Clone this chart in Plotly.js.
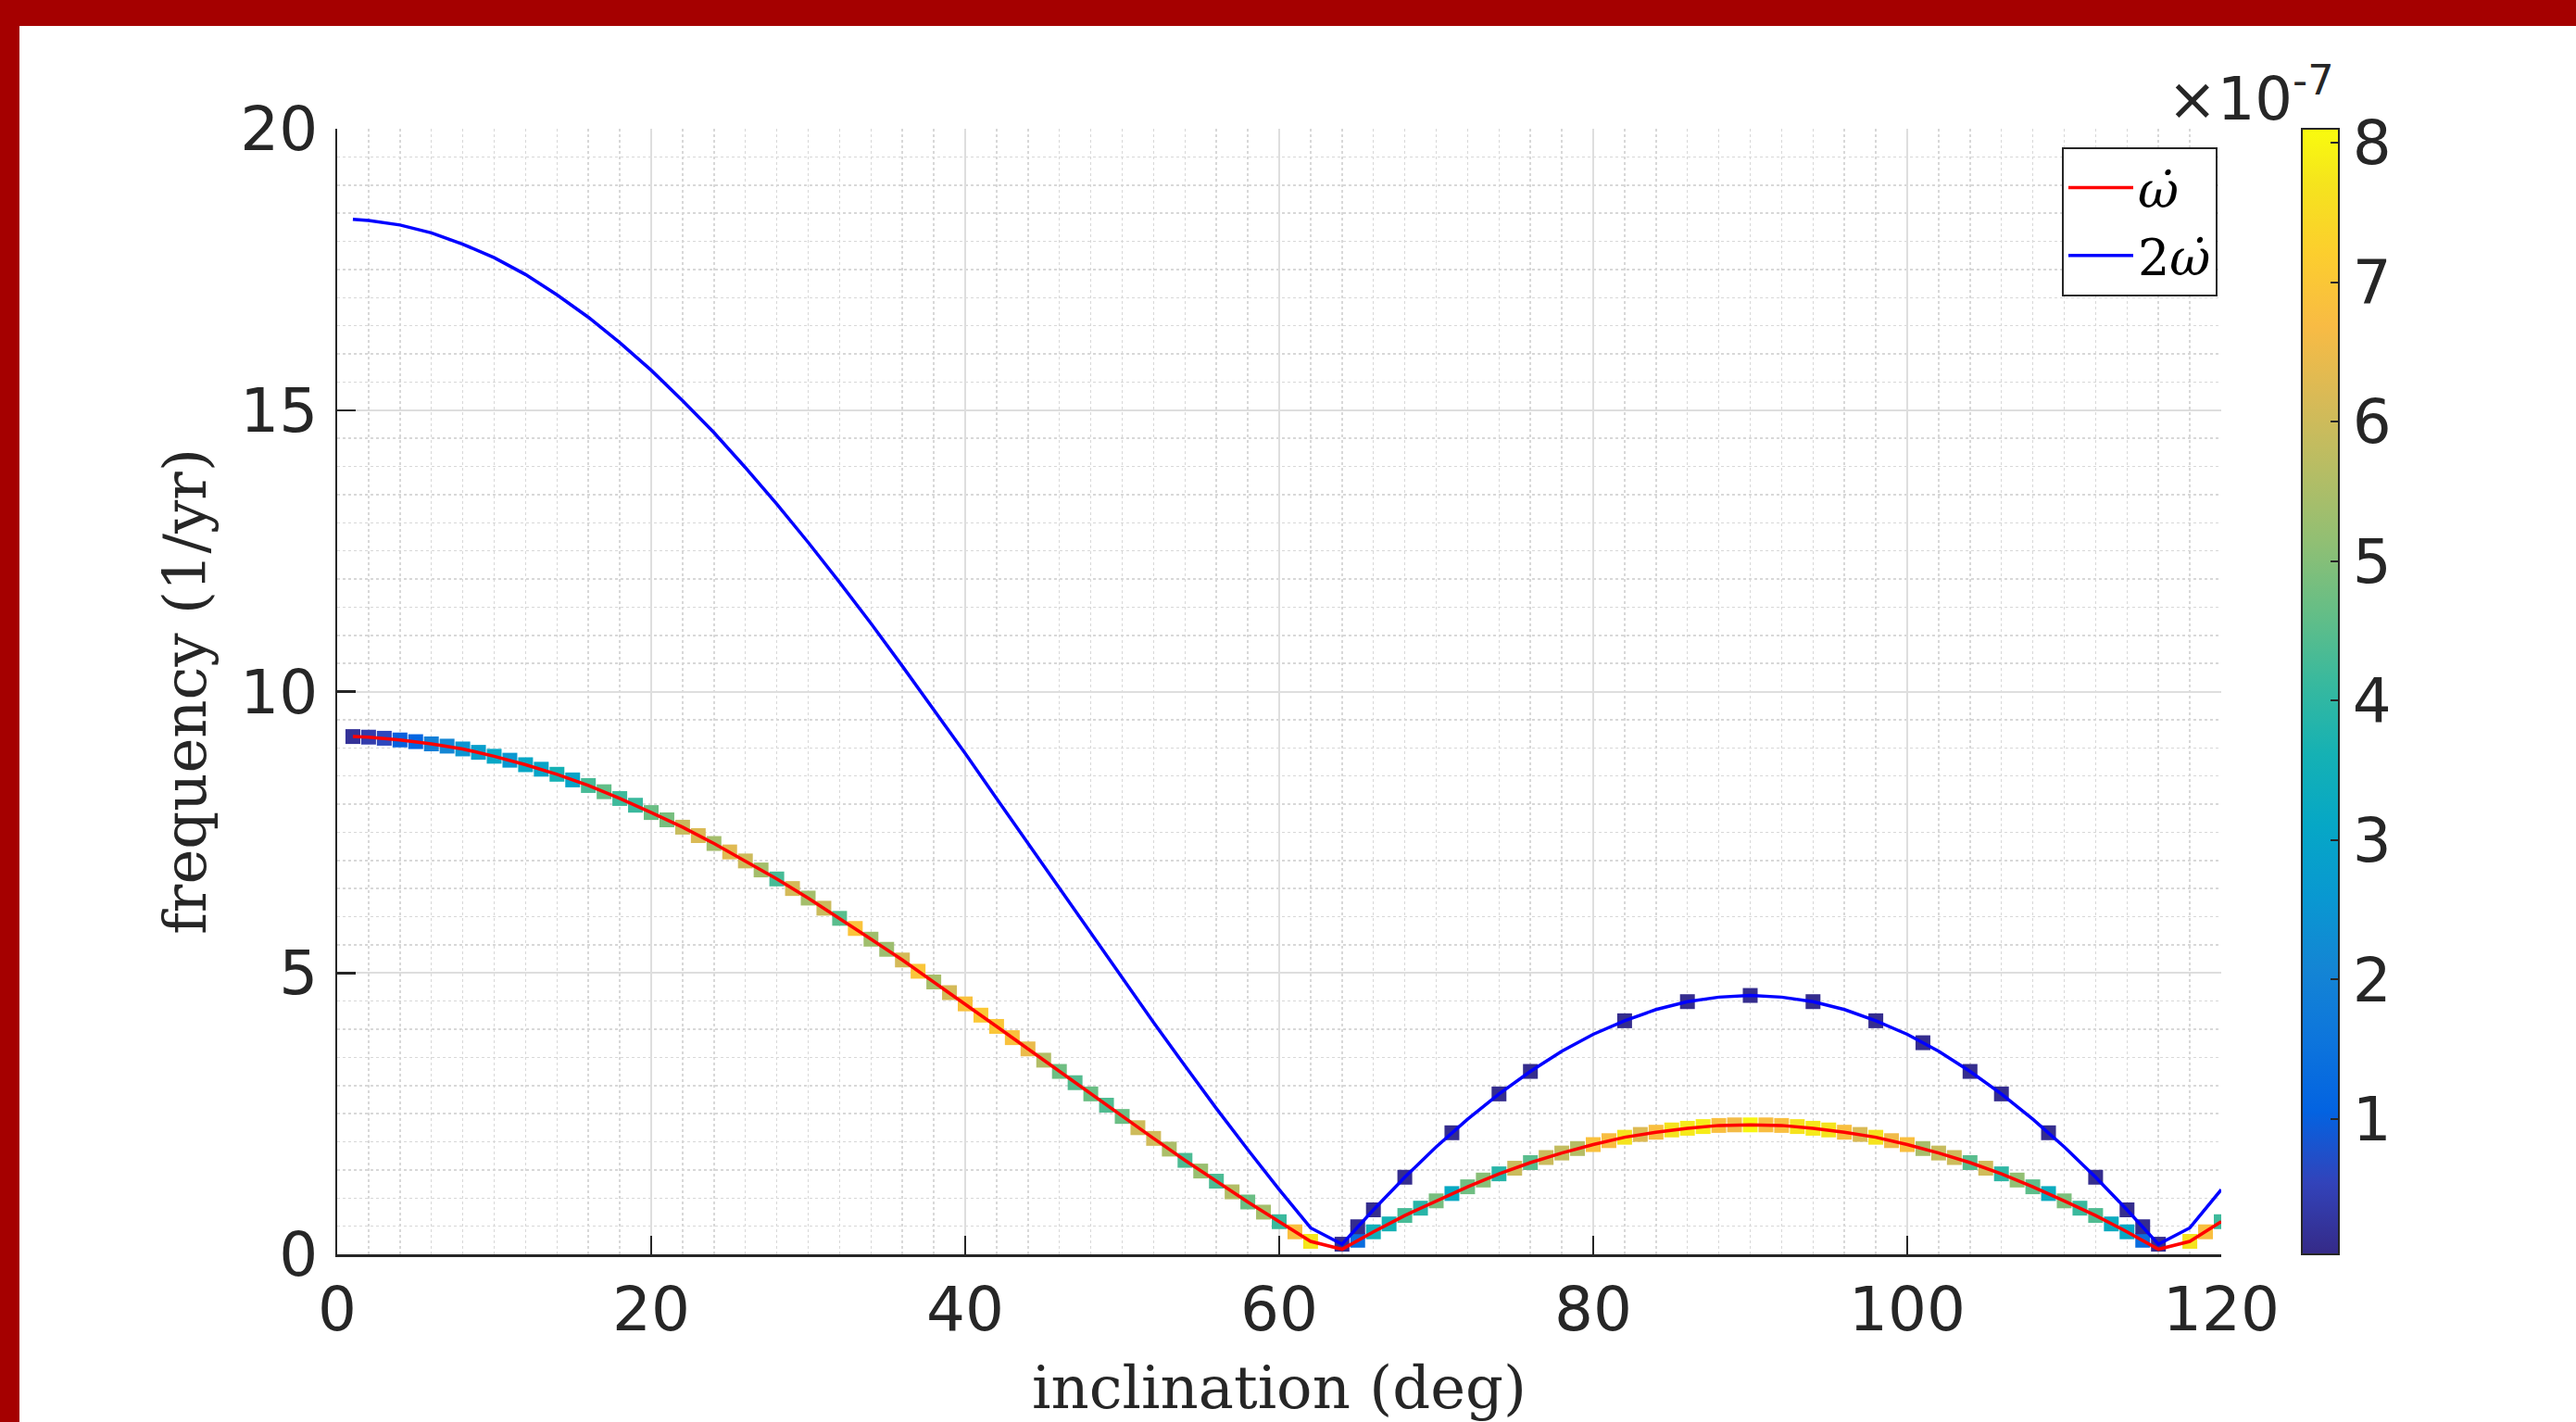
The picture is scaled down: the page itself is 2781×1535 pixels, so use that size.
<!DOCTYPE html>
<html><head><meta charset="utf-8">
<script src="https://cdn.plot.ly/plotly-3.0.1.min.js"></script>
<style>html,body{margin:0;padding:0;background:#fff;overflow:hidden}#chart{width:2781px;height:1535px}</style>
</head><body><div id="chart"></div>
<script>
// ---- data ----
const lineInclination = [1,2,4,6,8,10,12,14,16,18,20,22,24,26,28,30,32,34,36,38,40,42,44,46,48,50,52,54,56,58,60,62,64,66,68,70,72,74,76,78,80,82,84,86,88,90,92,94,96,98,100,102,104,106,108,110,112,114,116,118,120];
const omegaDotFreq = [9.20,9.19,9.14,9.07,8.98,8.85,8.70,8.53,8.33,8.10,7.85,7.59,7.30,6.99,6.67,6.33,5.97,5.60,5.23,4.84,4.45,4.05,3.65,3.25,2.85,2.45,2.06,1.67,1.30,0.93,0.58,0.23,0.09,0.40,0.69,0.95,1.20,1.43,1.63,1.80,1.95,2.08,2.17,2.24,2.29,2.30,2.29,2.24,2.17,2.08,1.95,1.80,1.63,1.43,1.20,0.95,0.69,0.40,0.09,0.23,0.58];
const twoOmegaDotFreq = [18.39,18.37,18.29,18.15,17.95,17.71,17.41,17.05,16.65,16.20,15.71,15.17,14.60,13.98,13.33,12.65,11.94,11.21,10.45,9.68,8.90,8.10,7.30,6.50,5.70,4.90,4.12,3.35,2.59,1.86,1.15,0.47,0.18,0.79,1.37,1.91,2.40,2.85,3.25,3.61,3.91,4.15,4.35,4.49,4.57,4.60,4.57,4.49,4.35,4.15,3.91,3.61,3.25,2.85,2.40,1.91,1.37,0.79,0.18,0.47,1.15];

const omegaMarkInclination = [1,2,3,4,5,6,7,8,9,10,11,12,13,14,15,16,17,18,19,20,21,22,23,24,25,26,27,28,29,30,31,32,33,34,35,36,37,38,39,40,41,42,43,44,45,46,47,48,49,50,51,52,53,54,55,56,57,58,59,60,61,62,65,66,67,68,69,70,71,72,73,74,75,76,77,78,79,80,81,82,83,84,85,86,87,88,89,90,91,92,93,94,95,96,97,98,99,100,101,102,103,104,105,106,107,108,109,110,111,112,113,114,115,118,119,120];
const omegaMarkFreq = [9.20,9.19,9.17,9.14,9.11,9.07,9.03,8.98,8.92,8.85,8.78,8.70,8.62,8.53,8.43,8.33,8.22,8.10,7.98,7.85,7.72,7.59,7.44,7.30,7.15,6.99,6.83,6.67,6.50,6.33,6.15,5.97,5.79,5.60,5.42,5.23,5.03,4.84,4.65,4.45,4.25,4.05,3.85,3.65,3.45,3.25,3.05,2.85,2.65,2.45,2.25,2.06,1.87,1.67,1.48,1.30,1.11,0.93,0.75,0.58,0.40,0.23,0.25,0.40,0.54,0.69,0.82,0.95,1.08,1.20,1.32,1.43,1.53,1.63,1.72,1.80,1.88,1.95,2.02,2.08,2.13,2.17,2.21,2.24,2.27,2.29,2.30,2.30,2.30,2.29,2.27,2.24,2.21,2.17,2.13,2.08,2.02,1.95,1.88,1.80,1.72,1.63,1.53,1.43,1.32,1.20,1.08,0.95,0.82,0.69,0.54,0.40,0.25,0.23,0.40,0.58];
const omegaMarkAmp = [0.2,0.4,0.6,1.0,1.1,1.9,2.1,2.5,2.8,3.1,2.6,3.1,3.0,3.6,3.0,4.3,4.6,4.2,4.15,4.7,4.85,5.9,6.2,5.4,6.3,6.0,5.4,4.3,6.1,5.4,5.95,4.5,6.9,5.35,5.3,6.1,6.95,5.45,6.1,6.85,7.05,7.0,6.85,6.45,5.6,4.75,4.45,4.7,4.4,4.7,6.0,6.05,5.5,4.35,5.25,4.35,5.6,4.7,5.4,4.15,6.8,7.75,1.35,3.5,3.6,4.3,3.9,4.85,3.2,4.75,5.05,3.9,5.95,4.5,5.95,5.85,5.65,6.85,6.75,7.7,6.25,6.8,7.7,7.8,7.85,6.8,6.6,8.0,6.75,6.8,7.7,7.8,7.7,6.8,6.2,7.7,6.55,6.8,5.45,5.9,6.0,4.5,6.05,4.0,5.15,4.55,3.3,4.9,4.15,4.4,3.3,3.15,1.35,7.7,6.8,4.2];

const twoOmegaMarkInclination = [64,65,66,68,71,74,76,82,86,90,94,98,101,104,106,109,112,114,115,116];
const twoOmegaMarkFreq = [0.18,0.49,0.79,1.37,2.16,2.85,3.25,4.15,4.49,4.60,4.49,4.15,3.76,3.25,2.85,2.16,1.37,0.79,0.49,0.18];
const twoOmegaMarkAmp = [0.1,0.1,0.1,0.1,0.1,0.1,0.1,0.1,0.1,0.1,0.1,0.1,0.1,0.1,0.1,0.1,0.1,0.1,0.1,0.1];

const seriesNames = ['<i>ω̇</i>', '2<i>ω̇</i>'];
const xTickVals = [0,20,40,60,80,100,120];
const yTickVals = [0,5,10,15,20];
const ampTickVals = [1,2,3,4,5,6,7,8];
const ampExponentLabel = '×10<sup>-7</sup>';
const xTitle = 'inclination (deg)';
const yTitle = 'frequency (1/yr)';

// ---- layout helpers ----
const W = 2781, H = 1535;
const M = {l:364, r:383, t:139, b:181, pad:0};
const PW = W - M.l - M.r, PH = H - M.t - M.b;
const px = v => (v - M.l) / PW;          // page pixel x -> paper
const py = v => (H - M.b - v) / PH;      // page pixel y -> paper

const parula = [
 [0.000,'#352a87'],[0.0635,'#3243ba'],[0.127,'#0363e1'],[0.190,'#0d75dc'],[0.254,'#1485d4'],
 [0.317,'#0998d1'],[0.381,'#06a7c6'],[0.444,'#15b1b4'],[0.508,'#38b99e'],[0.571,'#65be86'],
 [0.635,'#92bf73'],[0.698,'#b7bd64'],[0.762,'#d9ba56'],[0.825,'#f8bb44'],[0.889,'#fcce2e'],
 [0.952,'#f5e41d'],[1.000,'#f9fb0e']];

const axisColor = '#262626';
const tickFont = {family:'DejaVu Sans', size:66, color:axisColor};
const serifFont = {family:'DejaVu Serif', size:64, color:axisColor};

const traces = [
 {type:'scatter', mode:'markers', x:omegaMarkInclination, y:omegaMarkFreq, showlegend:false, hoverinfo:'skip',
  marker:{symbol:'square', size:16, color:omegaMarkAmp, coloraxis:'coloraxis', line:{width:0}}},
 {type:'scatter', mode:'markers', x:twoOmegaMarkInclination, y:twoOmegaMarkFreq, showlegend:false, hoverinfo:'skip',
  marker:{symbol:'square', size:16, color:twoOmegaMarkAmp, coloraxis:'coloraxis', line:{width:0}}},
 {type:'scatter', mode:'lines', x:lineInclination, y:omegaDotFreq, name:seriesNames[0],
  line:{color:'#ff0000', width:3.5}},
 {type:'scatter', mode:'lines', x:lineInclination, y:twoOmegaDotFreq, name:seriesNames[1],
  line:{color:'#0000ff', width:3.5}}
];

const layout = {
 width:W, height:H, margin:M, paper_bgcolor:'#ffffff', plot_bgcolor:'#ffffff',
 font:{family:'DejaVu Sans', color:axisColor},
 xaxis:{range:[0,120], tickvals:xTickVals, ticktext:xTickVals.map(String), ticks:'inside', ticklen:20, tickwidth:2.5, tickcolor:axisColor,
  showline:true, linecolor:axisColor, linewidth:2.5, mirror:false, zeroline:false,
  showgrid:true, gridcolor:'#dedede', gridwidth:2, tickfont:tickFont, ticklabelstandoff:0,
  minor:{dtick:2, showgrid:true, gridcolor:'#d8d8d8', gridwidth:1.5, griddash:'dot', ticks:''},
  title:{text:xTitle, font:serifFont, standoff:40}, automargin:false},
 yaxis:{range:[0,20], tickvals:yTickVals, ticktext:yTickVals.map(String), ticks:'inside', ticklen:20, tickwidth:2.5, tickcolor:axisColor,
  showline:true, linecolor:axisColor, linewidth:2.5, mirror:false, zeroline:false,
  showgrid:true, gridcolor:'#dedede', gridwidth:2, tickfont:tickFont, ticklabelstandoff:5,
  minor:{dtick:0.5, showgrid:true, gridcolor:'#d8d8d8', gridwidth:1.5, griddash:'dot', ticks:''},
  title:{text:yTitle, font:serifFont, standoff:16}, automargin:false},
 coloraxis:{cmin:0.03, cmax:8.1, colorscale:parula,
  colorbar:{x:px(2485), xanchor:'left', xref:'paper', y:0.5, yanchor:'middle', len:1, lenmode:'fraction',
   thickness:40, thicknessmode:'pixels', xpad:0, ypad:0, outlinewidth:2, outlinecolor:axisColor,
   tickvals:ampTickVals, ticktext:ampTickVals.map(String), ticks:'inside', ticklen:10, tickwidth:2, tickcolor:axisColor,
   tickfont:tickFont}},
 legend:{x:px(2226), y:py(159), xanchor:'left', yanchor:'top', bgcolor:'#ffffff', bordercolor:axisColor, borderwidth:2,
  font:{family:'DejaVu Serif', size:54, color:'#000000'}, itemwidth:70, tracegroupgap:0},
 annotations:[
  {xref:'paper', yref:'paper', x:px(2522), y:py(146), xanchor:'right', yanchor:'bottom', showarrow:false,
   text:ampExponentLabel, font:{family:'DejaVu Sans', size:64, color:axisColor}}
 ],
 shapes:[
  {type:'rect', xref:'paper', yref:'paper', x0:px(0), x1:px(W), y0:py(28), y1:py(0), fillcolor:'#a50000', line:{width:0}, layer:'above'},
  {type:'rect', xref:'paper', yref:'paper', x0:px(0), x1:px(21), y0:py(H), y1:py(0), fillcolor:'#a50000', line:{width:0}, layer:'above'}
 ]
};

Plotly.newPlot('chart', traces, layout, {displayModeBar:false, staticPlot:true});
</script>
</body></html>
